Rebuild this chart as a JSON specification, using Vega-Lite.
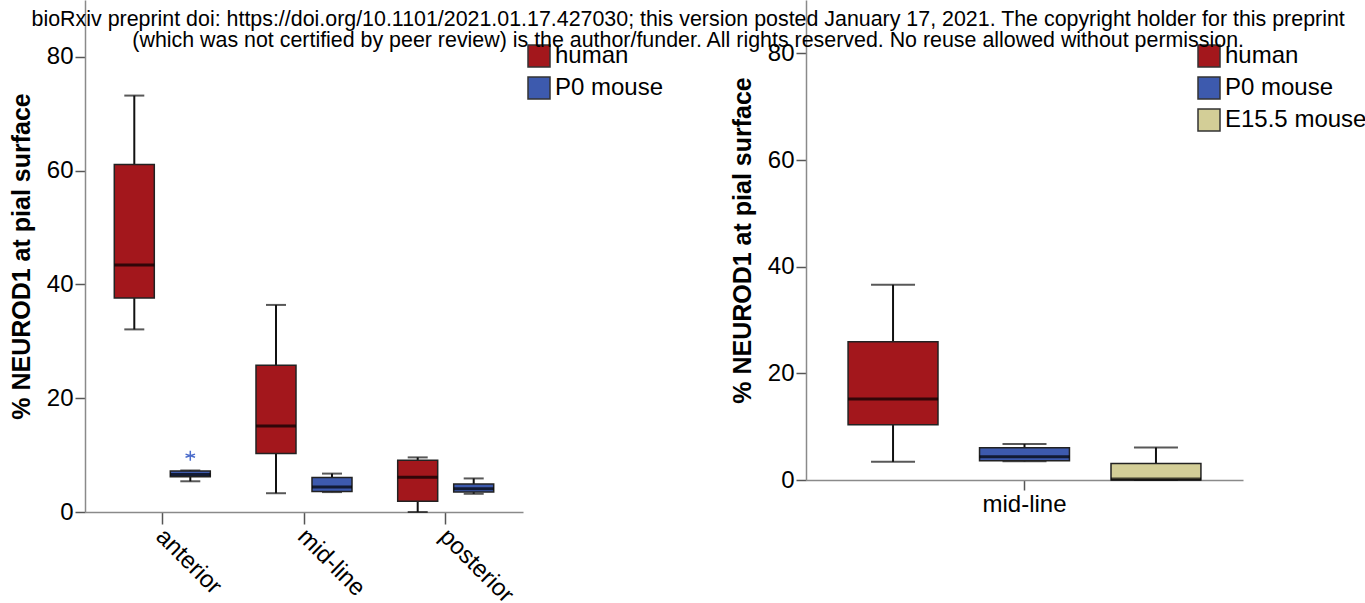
{
  "$schema": "https://vega.github.io/schema/vega-lite/v6.json",
  "padding": {"left": 9, "top": 0, "right": 0, "bottom": 0},
  "background": "white",
  "title": {
    "text": [
      "bioRxiv preprint doi: https://doi.org/10.1101/2021.01.17.427030; this version posted January 17, 2021. The copyright holder for this preprint",
      "(which was not certified by peer review) is the author/funder. All rights reserved. No reuse allowed without permission."
    ],
    "font": "Liberation Sans",
    "fontSize": 21.4,
    "fontWeight": "normal",
    "color": "#000000",
    "lineHeight": 21,
    "anchor": "middle",
    "offset": -51
  },
  "datasets": {
    "boxes": [
      {"panel": "A", "region": "anterior", "species": "human", "lower": 32.1, "q1": 37.6, "median": 43.4, "q3": 61.1, "upper": 73.2},
      {"panel": "A", "region": "anterior", "species": "P0 mouse", "lower": 5.4, "q1": 6.2, "median": 6.6, "q3": 7.2, "upper": 7.3},
      {"panel": "A", "region": "mid-line", "species": "human", "lower": 3.3, "q1": 10.3, "median": 15.1, "q3": 25.8, "upper": 36.4},
      {"panel": "A", "region": "mid-line", "species": "P0 mouse", "lower": 3.5, "q1": 3.6, "median": 4.4, "q3": 6.05, "upper": 6.75},
      {"panel": "A", "region": "posterior", "species": "human", "lower": 0, "q1": 1.9, "median": 6.1, "q3": 9.1, "upper": 9.6},
      {"panel": "A", "region": "posterior", "species": "P0 mouse", "lower": 3.2, "q1": 3.5, "median": 4.1, "q3": 4.9, "upper": 5.9},
      {"panel": "B", "region": "mid-line", "species": "human", "lower": 3.4, "q1": 10.35, "median": 15.2, "q3": 25.9, "upper": 36.6},
      {"panel": "B", "region": "mid-line", "species": "P0 mouse", "lower": 3.5, "q1": 3.6, "median": 4.35, "q3": 6.05, "upper": 6.75},
      {"panel": "B", "region": "mid-line", "species": "E15.5 mouse", "lower": 0, "q1": 0, "median": 0.2, "q3": 3.1, "upper": 6.1}
    ],
    "outliers": [
      {"panel": "A", "region": "anterior", "species": "P0 mouse", "value": 9.9}
    ]
  },
  "config": {
    "view": {"stroke": null},
    "axis": {
      "grid": false,
      "labelFont": "Liberation Sans",
      "labelFontSize": 24,
      "labelColor": "#000000",
      "titleFont": "Liberation Sans",
      "titleFontSize": 25,
      "titleFontWeight": "bold",
      "titleColor": "#000000",
      "domainColor": "#8a8a8a",
      "domainWidth": 1.5,
      "tickColor": "#555555",
      "tickWidth": 1.5
    },
    "axisY": {"tickSize": 10, "labelPadding": 2, "titlePadding": 12}
  },
  "resolve": {"scale": {"color": "independent", "y": "independent", "x": "independent", "xOffset": "independent"}},
  "spacing": 66,
  "hconcat": [
    {
      "width": 438,
      "height": 512,
      "data": {"name": "boxes"},
      "transform": [{"filter": "datum.panel == 'A'"}],
      "encoding": {
        "x": {
          "field": "region", "type": "nominal",
          "scale": {"domain": ["anterior", "mid-line", "posterior"], "paddingInner": 0, "paddingOuter": 0.0455},
          "axis": {"title": null, "labelAngle": 45, "labelAlign": "left", "labelBaseline": "top", "tickSize": 12, "labelPadding": 0, "labelOffset": 6}
        },
        "xOffset": {
          "field": "species", "type": "nominal",
          "scale": {"domain": ["human", "P0 mouse"], "paddingInner": 0.2857, "paddingOuter": 0.408}
        }
      },
      "layer": [
        {
          "mark": {"type": "rule", "strokeWidth": 2, "color": "#111111"},
          "encoding": {
            "y": {"field": "lower", "type": "quantitative", "scale": {"domain": [0, 90], "nice": false},
                  "title": "% NEUROD1 at pial surface", "axis": {"values": [0, 20, 40, 60, 80]}},
            "y2": {"field": "q1"}
          }
        },
        {
          "mark": {"type": "rule", "strokeWidth": 2, "color": "#111111"},
          "encoding": {
            "y": {"field": "q3", "type": "quantitative", "title": "% NEUROD1 at pial surface", "axis": {"values": [0, 20, 40, 60, 80]}},
            "y2": {"field": "upper"}
          }
        },
        {
          "mark": {"type": "tick", "size": 20, "thickness": 2, "color": "#111111"},
          "encoding": {"y": {"field": "lower", "type": "quantitative", "title": "% NEUROD1 at pial surface", "axis": {"values": [0, 20, 40, 60, 80]}}}
        },
        {
          "mark": {"type": "tick", "size": 20, "thickness": 2, "color": "#111111"},
          "encoding": {"y": {"field": "upper", "type": "quantitative", "title": "% NEUROD1 at pial surface", "axis": {"values": [0, 20, 40, 60, 80]}}}
        },
        {
          "mark": {"type": "bar", "stroke": "#222222", "strokeWidth": 1.5, "opacity": 1},
          "encoding": {
            "y": {"field": "q1", "type": "quantitative", "title": "% NEUROD1 at pial surface", "axis": {"values": [0, 20, 40, 60, 80]}},
            "y2": {"field": "q3"},
            "color": {
              "field": "species", "type": "nominal",
              "scale": {"domain": ["human", "P0 mouse"], "range": ["#A3171C", "#3D5AAE"]},
              "legend": {
                "title": null, "orient": "none", "legendX": 442, "legendY": 44,
                "symbolType": "square", "symbolSize": 484, "symbolStrokeColor": "#333333", "symbolStrokeWidth": 1.5,
                "labelFont": "Liberation Sans", "labelFontSize": 24, "labelColor": "#000000",
                "rowPadding": 4, "labelOffset": 4
              }
            }
          }
        },
        {
          "mark": {"type": "tick", "size": 40, "thickness": 3, "color": "#000000"},
          "encoding": {"y": {"field": "median", "type": "quantitative", "title": "% NEUROD1 at pial surface", "axis": {"values": [0, 20, 40, 60, 80]}}}
        },
        {
          "data": {"name": "outliers"},
          "mark": {"type": "point", "shape": "M0,-1L0,1M-0.95,-0.31L0.95,0.31M-0.95,0.31L0.95,-0.31", "size": 100, "filled": false, "stroke": "#4B6CCB", "strokeWidth": 1.5, "opacity": 1},
          "encoding": {"y": {"field": "value", "type": "quantitative", "title": "% NEUROD1 at pial surface", "axis": {"values": [0, 20, 40, 60, 80]}}}
        }
      ]
    },
    {
      "width": 437,
      "height": 480,
      "data": {"name": "boxes"},
      "transform": [{"filter": "datum.panel == 'B'"}],
      "encoding": {
        "x": {
          "field": "region", "type": "nominal",
          "scale": {"domain": ["mid-line"], "paddingInner": 0, "paddingOuter": 0},
          "axis": {"title": null, "labelAngle": 0, "tickSize": 10, "labelPadding": 2}
        },
        "xOffset": {
          "field": "species", "type": "nominal",
          "scale": {"domain": ["human", "P0 mouse", "E15.5 mouse"], "paddingInner": 0.316, "paddingOuter": 0.32}
        }
      },
      "layer": [
        {
          "mark": {"type": "rule", "strokeWidth": 2, "color": "#111111"},
          "encoding": {
            "y": {"field": "lower", "type": "quantitative", "scale": {"domain": [0, 90], "nice": false},
                  "title": "% NEUROD1 at pial surface", "axis": {"values": [0, 20, 40, 60, 80]}},
            "y2": {"field": "q1"}
          }
        },
        {
          "mark": {"type": "rule", "strokeWidth": 2, "color": "#111111"},
          "encoding": {
            "y": {"field": "q3", "type": "quantitative", "title": "% NEUROD1 at pial surface", "axis": {"values": [0, 20, 40, 60, 80]}},
            "y2": {"field": "upper"}
          }
        },
        {
          "mark": {"type": "tick", "size": 44, "thickness": 2, "color": "#111111"},
          "encoding": {"y": {"field": "lower", "type": "quantitative", "title": "% NEUROD1 at pial surface", "axis": {"values": [0, 20, 40, 60, 80]}}}
        },
        {
          "mark": {"type": "tick", "size": 44, "thickness": 2, "color": "#111111"},
          "encoding": {"y": {"field": "upper", "type": "quantitative", "title": "% NEUROD1 at pial surface", "axis": {"values": [0, 20, 40, 60, 80]}}}
        },
        {
          "mark": {"type": "bar", "stroke": "#222222", "strokeWidth": 1.5, "opacity": 1},
          "encoding": {
            "y": {"field": "q1", "type": "quantitative", "title": "% NEUROD1 at pial surface", "axis": {"values": [0, 20, 40, 60, 80]}},
            "y2": {"field": "q3"},
            "color": {
              "field": "species", "type": "nominal",
              "scale": {"domain": ["human", "P0 mouse", "E15.5 mouse"], "range": ["#A3171C", "#3D5AAE", "#D3CE97"]},
              "legend": {
                "title": null, "orient": "none", "legendX": 391, "legendY": 44,
                "symbolType": "square", "symbolSize": 484, "symbolStrokeColor": "#333333", "symbolStrokeWidth": 1.5,
                "labelFont": "Liberation Sans", "labelFontSize": 24, "labelColor": "#000000",
                "rowPadding": 4, "labelOffset": 4
              }
            }
          }
        },
        {
          "mark": {"type": "tick", "size": 90, "thickness": 3, "color": "#000000"},
          "encoding": {"y": {"field": "median", "type": "quantitative", "title": "% NEUROD1 at pial surface", "axis": {"values": [0, 20, 40, 60, 80]}}}
        }
      ]
    }
  ]
}
